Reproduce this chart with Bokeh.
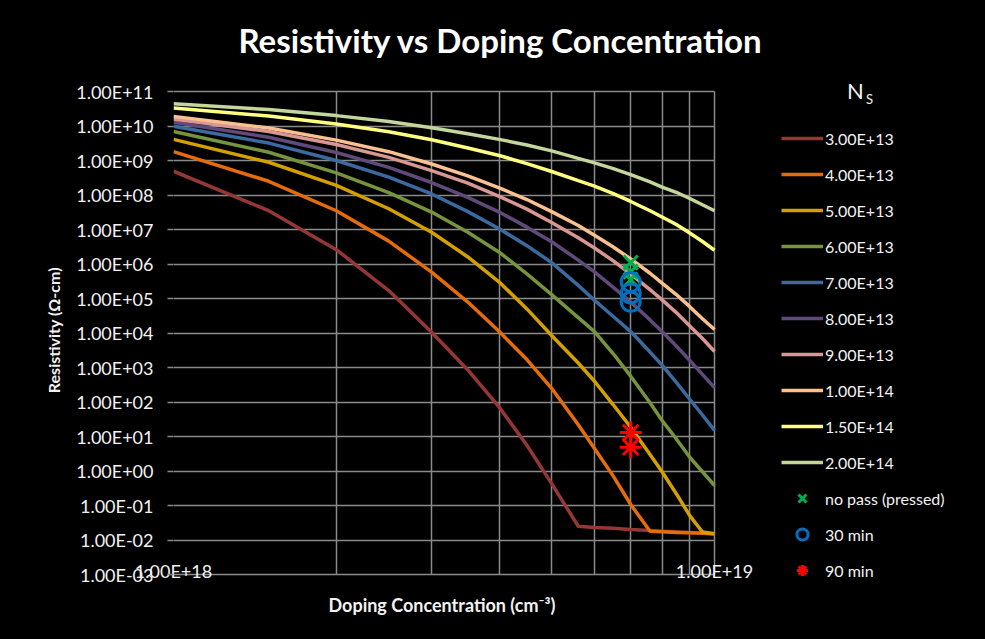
from bokeh.plotting import figure
from bokeh.models import FixedTicker, Legend, LegendItem, Range1d, Label, Title
from bokeh.embed import file_html
from bokeh.resources import INLINE

# ---------------- data ----------------
doping = [1.0e18, 1.5e18, 2.0e18, 2.5e18, 3.0e18, 3.5e18, 4.0e18, 4.5e18, 5.0e18, 5.6e18,
          6.0e18, 6.5e18, 7.0e18, 7.6e18, 8.0e18, 8.5e18, 9.0e18, 9.5e18, 1.0e19]

rho_3e13 = [4.9e8, 3.5e7, 2.6e6, 1.7e5, 1.05e4, 850, 71, 5.6, 0.43, 0.025,
            0.023, 0.022, 0.020, 0.019, 0.018, 0.0174, 0.0166, 0.0158, 0.0151]
rho_4e13 = [1.8e9, 2.5e8, 3.5e7, 4.6e6, 5.8e5, 7.9e4, 1.1e4, 1.7e3, 250, 22,
            4.5, 0.71, 0.107, 0.018, 0.0174, 0.0166, 0.0162, 0.0158, 0.0151]
rho_5e13 = [4.1e9, 8.9e8, 1.9e8, 4.0e7, 8.3e6, 1.6e6, 3.0e5, 5.0e4, 8.5e3, 1.35e3,
            400, 83, 18.6, 3.0, 0.95, 0.22, 0.051, 0.017, 0.0151]
rho_6e13 = [6.9e9, 1.74e9, 4.4e8, 1.17e8, 3.2e7, 8.3e6, 2.2e6, 5.2e5, 1.3e5, 2.8e4,
            1.1e4, 2.5e3, 560, 95, 29, 8.5, 2.5, 0.95, 0.38]
rho_7e13 = [9.8e9, 3.2e9, 1.0e9, 3.3e8, 1.07e8, 3.3e7, 1.05e7, 3.4e6, 1.1e6, 2.4e5,
            8.9e4, 3.0e4, 1.1e4, 2.8e3, 1.17e3, 370, 120, 42, 15]
rho_8e13 = [1.29e10, 4.7e9, 1.7e9, 6.3e8, 2.3e8, 8.5e7, 3.2e7, 1.17e7, 4.4e6, 1.3e6,
            5.9e5, 2.1e5, 7.9e4, 2.4e4, 1.1e4, 4.2e3, 1.6e3, 630, 260]
rho_9e13 = [1.6e10, 6.9e9, 2.9e9, 1.23e9, 5.1e8, 2.2e8, 9.1e7, 3.9e7, 1.6e7, 5.8e6,
            2.9e6, 1.23e6, 5.1e5, 1.8e5, 9.1e4, 3.9e4, 1.6e4, 6.9e3, 2.9e3]
rho_1e14 = [1.9e10, 8.7e9, 3.9e9, 1.8e9, 7.9e8, 3.6e8, 1.6e8, 7.4e7, 3.3e7, 1.3e7,
            6.8e6, 3.1e6, 1.4e6, 5.4e5, 2.8e5, 1.3e5, 5.8e4, 2.6e4, 1.26e4]
rho_1p5e14 = [3.3e10, 1.95e10, 1.15e10, 6.8e9, 4.0e9, 2.3e9, 1.4e9, 8.1e8, 4.8e8, 2.6e8,
              1.8e8, 1.1e8, 6.5e7, 3.5e7, 2.3e7, 1.4e7, 7.9e6, 4.5e6, 2.5e6]
rho_2e14 = [4.4e10, 3.0e10, 2.0e10, 1.35e10, 8.9e9, 6.0e9, 4.1e9, 2.8e9, 1.9e9, 1.15e9,
            8.5e8, 5.8e8, 3.9e8, 2.4e8, 1.7e8, 1.2e8, 7.9e7, 5.2e7, 3.5e7]

series_labels = ["3.00E+13", "4.00E+13", "5.00E+13", "6.00E+13", "7.00E+13",
                 "8.00E+13", "9.00E+13", "1.00E+14", "1.50E+14", "2.00E+14"]
series_values = [rho_3e13, rho_4e13, rho_5e13, rho_6e13, rho_7e13,
                 rho_8e13, rho_9e13, rho_1e14, rho_1p5e14, rho_2e14]
series_colors = ["#953735", "#e46c0a", "#d4a000", "#77933c", "#3b6aa0",
                 "#604a7b", "#d99694", "#fac090", "#ffff80", "#c3d69b"]

sample_doping = [7.0e18]
no_pass = [1.1e6, 6.0e5, 3.5e5]
min_30 = [3.0e5, 1.4e5, 8.0e4]
min_90 = [13.0, 4.9]

y_ticks = [1e-3, 1e-2, 1e-1, 1e0, 1e1, 1e2, 1e3, 1e4, 1e5, 1e6, 1e7, 1e8, 1e9, 1e10, 1e11]
y_tick_labels = ["1.00E-03", "1.00E-02", "1.00E-01", "1.00E+00", "1.00E+01", "1.00E+02",
                 "1.00E+03", "1.00E+04", "1.00E+05", "1.00E+06", "1.00E+07", "1.00E+08",
                 "1.00E+09", "1.00E+10", "1.00E+11"]
x_ticks = [1e18, 1e19]
x_tick_labels = ["1.00E+18", "1.00E+19"]
x_grid = [1e18, 2e18, 3e18, 4e18, 5e18, 6e18, 7e18, 8e18, 9e18, 1e19]
x_lim = (1e18, 1e19)
y_lim = (1e-3, 1e11)

FONT = "Lato"
GRID = "#8a8a8a"
TXT = "#f2f2f2"

# ---- layout (pixels): data box x 173..714, y 91..574; the frame is extended to
# the right (and a little up/down) so that the legend lives inside it ----
W, H = 985, 639
LEFT, TOP, BOTTOM = 173, 70, 50
BOX_R, BOX_T, BOX_B = 714, 91, 574
dec_x = (BOX_R - LEFT) / 1.0          # px per decade in x
dec_y = (BOX_B - BOX_T) / 14.0        # px per decade in y
FRAME_B = H - BOTTOM                  # canvas y of the frame bottom
x_end = 10 ** (18 + (W - LEFT) / dec_x)
y_start = 10 ** (-3 - (FRAME_B - BOX_B) / dec_y)
y_end = 10 ** (11 + (BOX_T - TOP) / dec_y)

p = figure(width=W, height=H, x_axis_type="log", y_axis_type="log",
           x_range=Range1d(1e18, x_end), y_range=Range1d(y_start, y_end),
           output_backend="svg", toolbar_location=None,
           min_border_left=LEFT, min_border_right=0, min_border_top=TOP,
           min_border_bottom=BOTTOM)
p.background_fill_color = "black"
p.border_fill_color = "black"
p.outline_line_color = None
if "styles" in type(p).properties():
    p.styles = {"background-color": "black"}

p.title.text = "Resistivity vs Doping Concentration"
p.title.align = "left"
p.title.offset = 65
p.title.text_font = FONT
p.title.text_font_size = "33px"
p.title.text_font_style = "bold"
p.title.text_color = "white"
p.title.standoff = 22

# grid restricted to the data box
p.xgrid.ticker = FixedTicker(ticks=x_grid)
p.ygrid.ticker = FixedTicker(ticks=y_ticks)
p.xgrid.bounds = x_lim
p.xgrid.cross_bounds = y_lim
p.ygrid.bounds = y_lim
p.ygrid.cross_bounds = x_lim
for g in (p.xgrid, p.ygrid):
    g.grid_line_color = GRID
    g.grid_line_width = 1.5

# axes
p.yaxis.ticker = FixedTicker(ticks=y_ticks)
p.yaxis.major_label_overrides = {t: s for t, s in zip(y_ticks, y_tick_labels)}
p.yaxis.bounds = y_lim
p.xaxis.ticker = FixedTicker(ticks=x_ticks)
p.xaxis.major_label_overrides = {t: s for t, s in zip(x_ticks, x_tick_labels)}
p.xaxis.bounds = x_lim
for ax in (p.xaxis, p.yaxis):
    ax.axis_line_color = None
    ax.major_tick_line_color = GRID
    ax.major_tick_line_width = 1.5
    ax.minor_tick_line_color = None
    ax.major_tick_in = 0
    ax.major_label_text_font = FONT
    ax.major_label_text_font_size = "18px"
    ax.major_label_text_color = TXT
    ax.axis_label_text_font = FONT
    ax.axis_label_text_font_style = "bold"
    ax.axis_label_text_color = TXT
p.yaxis.major_tick_out = 6
p.yaxis.major_label_standoff = 14
p.xaxis.major_tick_out = 0
p.xaxis.major_label_standoff = -30
p.yaxis.axis_label = "Resistivity (Ω-cm)"
p.yaxis.axis_label_text_font_size = "16px"
p.yaxis.axis_label_standoff = 10

x_title = Title(text="Doping Concentration (cm⁻³)", align="left", offset=155,
                text_font=FONT, text_font_size="18px", text_font_style="bold",
                text_color=TXT, standoff=4)
p.add_layout(x_title, "below")

# series
items = []
for lab, vals, col in zip(series_labels, series_values, series_colors):
    r = p.line(doping, vals, line_color=col, line_width=3.5)
    items.append(LegendItem(label=lab, renderers=[r]))

r1 = p.scatter(sample_doping * len(no_pass), no_pass, marker="x", size=20,
               line_color="#00b050", line_width=3)
r2 = p.scatter(sample_doping * len(min_30), min_30, marker="circle", size=19,
               line_color="#0070c0", fill_alpha=0, line_width=3)
r3 = p.scatter(sample_doping * len(min_90), min_90, marker="asterisk", size=22,
               line_color="#ff0000", line_width=3)
items.append(LegendItem(label="no pass (pressed)", renderers=[r1], index=0))
items.append(LegendItem(label="30 min", renderers=[r2], index=0))
items.append(LegendItem(label="90 min", renderers=[r3], index=0))

legend = Legend(items=items, location=(781 - LEFT, FRAME_B - 584), orientation="vertical",
                glyph_width=42, glyph_height=28, label_height=20, spacing=8,
                label_standoff=2, padding=0, margin=0,
                border_line_alpha=0, background_fill_alpha=0,
                label_text_font=FONT, label_text_font_size="16px",
                label_text_color=TXT)
p.add_layout(legend, "center")

# legend heading "N_S" (frame-relative screen units, y measured upward)
p.add_layout(Label(x=855 - LEFT, y=FRAME_B - 90, x_units="screen", y_units="screen",
                   text="N", text_font=FONT, text_font_size="22px", text_color=TXT,
                   text_align="center", text_baseline="middle"))
p.add_layout(Label(x=869 - LEFT, y=FRAME_B - 98, x_units="screen", y_units="screen",
                   text="S", text_font=FONT, text_font_size="13px", text_color=TXT,
                   text_align="center", text_baseline="middle"))

open("out.html", "w").write(file_html(p, INLINE))
